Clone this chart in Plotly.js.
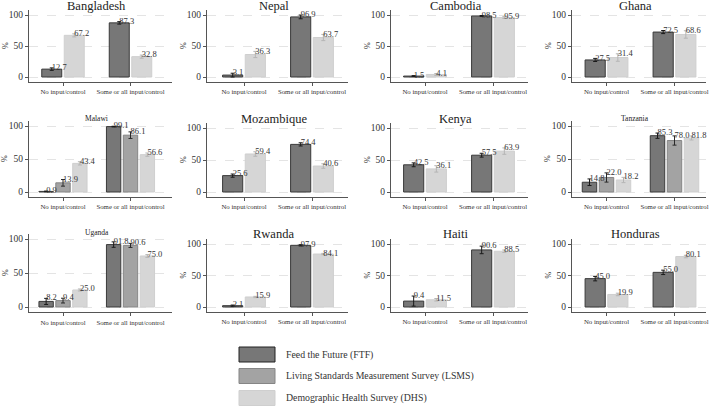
<!DOCTYPE html>
<html>
<head>
<meta charset="utf-8">
<script src="https://cdn.plot.ly/plotly-3.0.1.min.js"></script>
<style>html,body{margin:0;padding:0;background:#fff;}#chart{width:709px;height:407px;}</style>
</head>
<body>
<div id="chart"></div>
<script>
// ---------- DATA ----------
const countries = ['Bangladesh','Nepal','Cambodia','Ghana','Malawi','Mozambique','Kenya','Tanzania','Uganda','Rwanda','Haiti','Honduras'];
const categories = ['No input/control','Some or all input/control'];
const seriesNames = ['Feed the Future (FTF)','Living Standards Measurement Survey (LSMS)','Demographic Health Survey (DHS)'];

const ftfNo    = [12.7, 3.1, 1.5, 27.5, 0.9, 25.6, 42.5, 14.8, 8.2, 2.1, 9.4, 45.0];
const ftfSome  = [87.3, 96.9, 98.5, 72.5, 99.1, 74.4, 57.5, 85.3, 91.8, 97.9, 90.6, 55.0];
const lsmsNo   = [null, null, null, null, 13.9, null, null, 22.0, 9.4, null, null, null];
const lsmsSome = [null, null, null, null, 86.1, null, null, 78.0, 90.6, null, null, null];
const dhsNo    = [67.2, 36.3, 4.1, 31.4, 43.4, 59.4, 36.1, 18.2, 25.0, 15.9, 11.5, 19.9];
const dhsSome  = [32.8, 63.7, 95.9, 68.6, 56.6, 40.6, 63.9, 81.8, 75.0, 84.1, 88.5, 80.1];

// confidence interval half-widths (estimated)
const ftfErrNo    = [2.0, 3.0, 0.7, 2.5, 0.5, 2.5, 3.0, 5.0, 4.5, 1.0, 8.0, 3.5];
const ftfErrSome  = [2.0, 3.0, 0.7, 2.5, 0.5, 2.5, 3.0, 4.0, 4.0, 1.0, 6.0, 3.5];
const lsmsErrNo   = [null, null, null, null, 5.0, null, null, 7.0, 3.5, null, null, null];
const lsmsErrSome = [null, null, null, null, 5.0, null, null, 7.0, 3.0, null, null, null];
const dhsErrNo    = [2.5, 5.0, 1.5, 6.0, 2.5, 3.5, 5.0, 4.0, 1.5, 1.0, 2.0, 2.0];
const dhsErrSome  = [2.5, 5.0, 1.5, 6.0, 2.5, 3.5, 5.0, 3.0, 2.0, 1.0, 2.0, 2.0];

// ---------- STYLE / LAYOUT ----------
const W = 709, H = 407;
const FONT = '"Liberation Serif", "Times New Roman", "DejaVu Serif", serif';
const fills   = ['#777777', '#a3a3a3', '#d6d6d6'];
const borders = ['#3a3a3a', '#858585', '#cfcfcf'];
const errCols = ['#1a1a1a', '#2a2a2a', '#b5b5b5'];

// column geometry (px): axis line, first category, second category, right end
const cols = [
  {axis: 29,  c0: 63,   c1: 130.5, right: 172},
  {axis: 207, c0: 244,  c1: 312,   right: 348},
  {axis: 391, c0: 425,  c1: 493,   right: 528},
  {axis: 572, c0: 606.5,c1: 674.5, right: 706}
];
const rowZero = [77, 192, 307];
const rowHundred = [15, 128, 244];
const rowHundredSmall = [15, 126, 239];
const titleY = [6, 119, 234];
const titleYSmall = [6, 118, 232];
const smallTitle = ['Malawi', 'Tanzania', 'Uganda'];

const series = [
  {no: ftfNo, some: ftfSome, eNo: ftfErrNo, eSome: ftfErrSome},
  {no: lsmsNo, some: lsmsSome, eNo: lsmsErrNo, eSome: lsmsErrSome},
  {no: dhsNo, some: dhsSome, eNo: dhsErrNo, eSome: dhsErrSome}
];

const traces = [];
const layout = {
  width: W, height: H,
  margin: {l: 0, r: 0, t: 0, b: 0},
  paper_bgcolor: '#ffffff', plot_bgcolor: '#ffffff',
  showlegend: false,
  font: {family: FONT, color: '#333'},
  annotations: [], shapes: []
};

countries.forEach((name, i) => {
  const col = cols[i % 4];
  const row = Math.floor(i / 4);
  const small = smallTitle.includes(name);
  const p0 = rowZero[row];
  const p100 = small ? rowHundredSmall[row] : rowHundred[row];
  const u = (p0 - p100) / 100;
  const yBot = p0 + 8 * u, yTop = p100 - 8 * u;
  const ux = col.c1 - col.c0;
  const xr = [-(col.c0 - col.axis) / ux, 1 + (col.right - col.c1) / ux];
  const k = i + 1;
  const xa = 'xaxis' + (k === 1 ? '' : k);
  const ya = 'yaxis' + (k === 1 ? '' : k);
  const xref = 'x' + (k === 1 ? '' : k);
  const yref = 'y' + (k === 1 ? '' : k);

  layout[xa] = {
    domain: [col.axis / W, col.right / W], range: xr, anchor: yref,
    tickvals: [0, 1], ticktext: categories, ticks: 'outside', ticklen: 3,
    tickangle: 0, automargin: false, ticklabeloverflow: 'allow',
    tickcolor: '#555', showline: true, linecolor: '#555', linewidth: 1,
    showgrid: false, zeroline: false, tickfont: {size: 6.8, family: FONT, color: '#333'},
    fixedrange: true
  };
  layout[ya] = {
    domain: [1 - yBot / H, 1 - yTop / H], range: [-8, 108], anchor: xref,
    tickvals: [0, 50, 100], ticks: 'outside', ticklen: 3, tickcolor: '#555',
    automargin: false,
    showline: true, linecolor: '#555', linewidth: 1, zeroline: false,
    showgrid: true, gridcolor: '#e4e4e4', griddash: 'dash', gridwidth: 1,
    tickfont: {size: 9.5, family: FONT, color: '#333'}, fixedrange: true
  };

  // panel title
  layout.annotations.push({
    text: name, xref: 'paper', yref: 'paper',
    x: ((col.axis + col.right) / 2 - 4) / W,
    y: 1 - (small ? titleYSmall[row] : titleY[row]) / H,
    xanchor: 'center', yanchor: 'middle', showarrow: false,
    font: {size: small ? 7.5 : 12.5, family: FONT, color: '#222'}
  });
  // y-axis title
  layout.annotations.push({
    text: '%', xref: 'paper', yref: yref, x: (col.axis - 24) / W, y: 50,
    xanchor: 'center', yanchor: 'middle', showarrow: false, textangle: -90,
    font: {size: 8, family: FONT, color: '#333'}
  });

  // bars present in this panel
  const present = series.map((s, j) => j).filter(j => series[j].no[i] !== null);
  const n = present.length;
  const slot = 1 / (n + 1);
  const bw = slot - 0.037;
  present.forEach((j, idx) => {
    const s = series[j];
    const off = (idx - (n - 1) / 2) * slot;
    const xs = [0 + off, 1 + off];
    const ys = [s.no[i], s.some[i]];
    const es = [s.eNo[i], s.eSome[i]];
    traces.push({
      type: 'bar', x: xs, y: ys, width: bw, xaxis: xref, yaxis: yref,
      name: seriesNames[j], hoverinfo: 'skip',
      marker: {color: fills[j], line: {color: borders[j], width: 1}},
      error_y: {type: 'data', array: es, visible: true, color: errCols[j], thickness: 1, width: 2}
    });
    traces.push({
      type: 'scatter', mode: 'text', x: xs, y: ys.map((v, q) => v + es[q]),
      text: ys.map(v => v.toFixed(1)), textposition: 'middle right',
      marker: {size: 2}, xaxis: xref, yaxis: yref, hoverinfo: 'skip',
      textfont: {size: 8.5, family: FONT, color: '#333'}, cliponaxis: false
    });
  });
});

// legend (boxes + labels)
const legendY = [354.5, 376, 398];
seriesNames.forEach((nm, j) => {
  layout.shapes.push({
    type: 'rect', xref: 'paper', yref: 'paper',
    x0: 239 / W, x1: 275 / W, y0: 1 - (legendY[j] - 7.5) / H, y1: 1 - (legendY[j] + 7.5) / H,
    fillcolor: fills[j], line: {color: j === 0 ? '#222' : borders[j], width: 1}
  });
  layout.annotations.push({
    text: nm, xref: 'paper', yref: 'paper', x: 284 / W, y: 1 - legendY[j] / H,
    xanchor: 'left', yanchor: 'middle', showarrow: false,
    font: {size: 9.8, family: FONT, color: '#333'}
  });
});

Plotly.newPlot('chart', traces, layout, {staticPlot: true, displayModeBar: false});
</script>
</body>
</html>
